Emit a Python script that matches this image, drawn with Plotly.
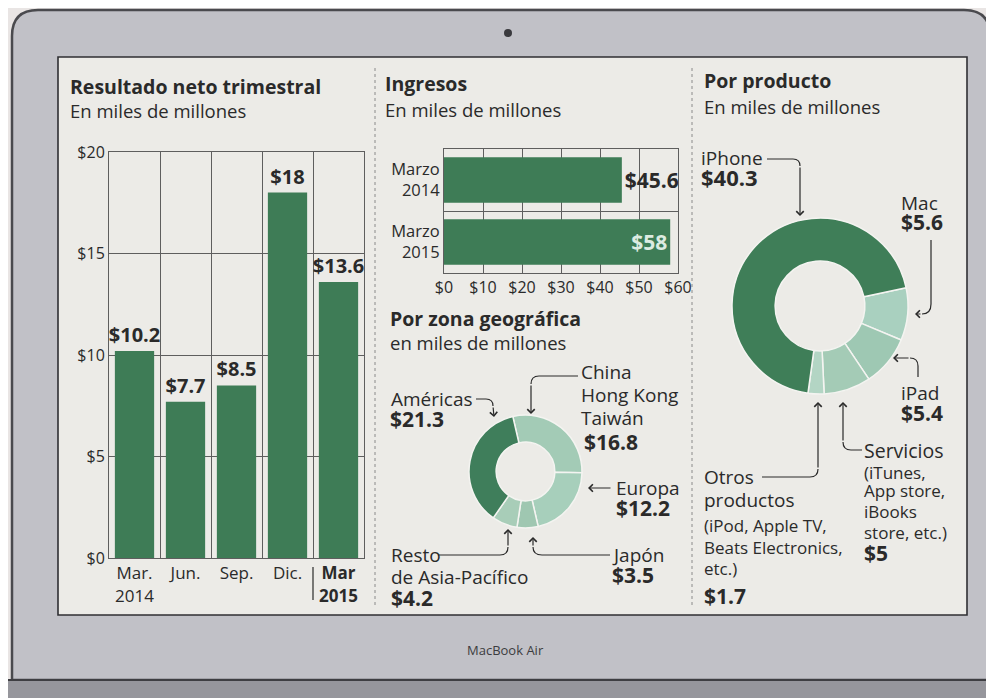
import plotly.graph_objects as go

# page body has an 8px margin: the figure is sized to fit the window exactly
OFF = 8
W, H = 994 - OFF, 698 - OFF
FONT = "'Open Sans', Roboto, sans-serif"
INK = "#2a2a2a"
GRID = "#5e5e5e"
DARK = "#3e7c56"

# ---------------- data ----------------
quarters = ["Mar. 2014", "Jun.", "Sep.", "Dic.", "Mar 2015"]
quarter_ticks = ["Mar.<br>2014", "Jun.", "Sep.", "Dic.", "<b>Mar<br>2015</b>"]
net_income = [10.2, 7.7, 8.5, 18, 13.6]
y1_ticks = [0, 5, 10, 15, 20]

rev_periods = ["Marzo<br>2014", "Marzo<br>2015"]
revenue = [45.6, 58]
x2_ticks = [0, 10, 20, 30, 40, 50, 60]

geo_labels = ["China, Hong Kong, Taiwán", "Europa", "Japón", "Resto de Asia-Pacífico", "Américas"]
geo_values = [16.8, 12.2, 3.5, 4.2, 21.3]
geo_colors = ["#a3cbb6", "#a7cfbb", "#9fc7b1", "#a8cdb8", "#3f7e5b"]

prod_labels = ["Mac", "iPad", "Servicios", "Otros productos", "iPhone"]
prod_values = [5.6, 5.4, 5.0, 1.7, 40.3]
prod_colors = ["#a9d0bf", "#9ec8b3", "#a4cbb6", "#b3d5c4", "#3f7e58"]


def X(px):
    return (px - OFF) / W


def Y(py):
    return 1 - (py - OFF) / H


def money(v):
    return f"${v:g}"


fig = go.Figure()

fig.add_trace(go.Bar(
    x=quarters, y=net_income, xaxis="x", yaxis="y",
    marker=dict(color=DARK, line=dict(width=0)), width=0.77,
    text=[f"<b>{money(v)}</b>" for v in net_income], textposition="outside",
    textfont=dict(size=20, color=INK, family=FONT), constraintext="none",
    cliponaxis=False, hoverinfo="x+y",
))

fig.add_trace(go.Bar(
    y=rev_periods, x=revenue, orientation="h", xaxis="x2", yaxis="y2",
    marker=dict(color=DARK, line=dict(width=0)), width=0.73,
    text=[f"<b>{money(v)}</b>" for v in revenue],
    textposition=["outside", "inside"], insidetextanchor="end",
    textfont=dict(size=[21, 21], color=[INK, "#dcebe1"], family=FONT),
    constraintext="none", cliponaxis=False, hoverinfo="x+y",
))

fig.add_trace(go.Pie(
    labels=geo_labels, values=geo_values, sort=False, direction="clockwise",
    rotation=-13, hole=0.52, textinfo="none", showlegend=False, automargin=False,
    marker=dict(colors=geo_colors, line=dict(color="#f4f4f1", width=1.5)),
    domain=dict(x=[X(469), X(582)], y=[Y(528), Y(415)]),
))

fig.add_trace(go.Pie(
    labels=prod_labels, values=prod_values, sort=False, direction="clockwise",
    rotation=78, hole=0.51, textinfo="none", showlegend=False, automargin=False,
    marker=dict(colors=prod_colors, line=dict(color="#f4f4f1", width=1.5)),
    domain=dict(x=[X(732), X(908)], y=[Y(394), Y(218)]),
))

axis_common = dict(showline=True, mirror=True, linecolor=GRID, linewidth=1,
                   showgrid=True, gridcolor=GRID, gridwidth=1, zeroline=False,
                   ticks="", fixedrange=True, automargin=False)

fig.update_layout(
    template="none",
    width=W, height=H, autosize=False,
    margin=dict(l=0, r=0, t=0, b=0, pad=0, autoexpand=False),
    paper_bgcolor="#e9e5e4", plot_bgcolor="rgba(0,0,0,0)",
    showlegend=False, bargap=0.2,
    font=dict(family=FONT, color=INK),
    xaxis=dict(domain=[X(109), X(364)], type="category", tickson="boundaries",
               tickvals=quarters, ticktext=quarter_ticks, anchor="y",
               tickfont=dict(size=17, color=INK), **axis_common),
    yaxis=dict(domain=[Y(558), Y(152)], range=[0, 20], tickvals=y1_ticks,
               ticktext=[money(v) for v in y1_ticks], anchor="x",
               tickfont=dict(size=16, color=INK), **axis_common),
    xaxis2=dict(domain=[X(444), X(678)], range=[0, 60], tickvals=x2_ticks,
                ticktext=[money(v) for v in x2_ticks], anchor="y2",
                tickfont=dict(size=16, color=INK), **axis_common),
    yaxis2=dict(domain=[Y(273), Y(149)], type="category", tickson="boundaries",
                autorange="reversed", anchor="x2",
                tickfont=dict(size=16.5, color=INK), **axis_common),
)

# ---------------- frame (laptop) ----------------
def pts_path(cmds):
    out = []
    for c in cmds:
        if isinstance(c, str):
            out.append(c)
        else:
            out.append(f"{X(c[0]):.5f},{Y(c[1]):.5f}")
    return " ".join(out)


shapes = []
r = 26
x0, y0, x1, y1 = 12, 10, 990, 680
shapes.append(dict(type="path", xref="paper", yref="paper", layer="below",
                   path=pts_path(["M", (x0, y1), "L", (x0, y0 + r), "Q", (x0, y0), (x0 + r, y0),
                                  "L", (x1 - r, y0), "Q", (x1, y0), (x1, y0 + r), "L", (x1, y1), "Z"]),
                   fillcolor="#c1c1c7", line=dict(color="#4a4a4e", width=2.5)))
shapes.append(dict(type="rect", xref="paper", yref="paper", layer="below",
                   x0=X(0), x1=X(1000), y0=Y(705), y1=Y(680),
                   fillcolor="#96969c", line=dict(color="#3e3e42", width=2)))
shapes.append(dict(type="rect", xref="paper", yref="paper", layer="below",
                   x0=X(58), x1=X(967), y0=Y(615), y1=Y(57),
                   fillcolor="#ecebe7", line=dict(color="#2f2f33", width=1.6)))
shapes.append(dict(type="circle", xref="paper", yref="paper", layer="below",
                   x0=X(504), x1=X(512), y0=Y(37), y1=Y(29),
                   fillcolor="#3a3a3e", line=dict(width=0)))
for xd in (375, 692):
    shapes.append(dict(type="line", xref="paper", yref="paper", layer="below",
                       x0=X(xd), x1=X(xd), y0=Y(68), y1=Y(608),
                       line=dict(color="#8a8a8a", width=1, dash="dot")))
# separator between 2014 and 2015 quarter labels
shapes.append(dict(type="line", xref="x", yref="paper", x0=3.5, x1=3.5,
                   y0=Y(567), y1=Y(600), line=dict(color=INK, width=1.2)))

LINE = dict(color=INK, width=1.2)
connectors = [
    # geography
    ["M", (476, 399), "L", (486, 399), "Q", (493, 399), (493, 406)],
    ["M", (578, 376), "L", (539, 376), "Q", (531, 376), (531, 384)],
    ["M", (610, 555), "L", (542, 555), "Q", (533, 555), (533, 547)],
    ["M", (438, 555), "L", (500, 555), "Q", (508, 555), (508, 547)],
    # product
    ["M", (767, 159), "L", (793, 159), "Q", (800, 159), (800, 166)],
    ["M", (931, 240), "L", (931, 304), "Q", (931, 314), (922, 314)],
    ["M", (918, 377), "L", (918, 366), "Q", (918, 358), (910, 358)],
    ["M", (762, 477), "L", (810, 477), "Q", (818, 477), (818, 469)],
    ["M", (862, 450), "L", (851, 450), "Q", (843, 450), (843, 442)],
]
for c in connectors:
    shapes.append(dict(type="path", xref="paper", yref="paper", path=pts_path(c), line=LINE))

arrows = [
    ((493, 406), (494, 417)),
    ((531, 384), (531, 414)),
    ((612, 488), (588, 488)),
    ((533, 547), (533, 537)),
    ((508, 547), (508, 529)),
    ((800, 166), (800, 216)),
    ((922, 314), (915, 314)),
    ((910, 358), (893, 358)),
    ((818, 469), (818, 402)),
    ((843, 442), (843, 402)),
]

annotations = []
for tail, tip in arrows:
    annotations.append(dict(x=X(tip[0]), y=Y(tip[1]), xref="paper", yref="paper",
                            ax=tail[0] - tip[0], ay=tail[1] - tip[1], text="",
                            showarrow=True, arrowhead=4, arrowsize=1.2, arrowwidth=1.2,
                            arrowcolor=INK, standoff=0, startstandoff=0))


def txt(x, y, s, size=19, bold=False, xanchor="left", color=INK):
    return dict(x=X(x), y=Y(y), xref="paper", yref="paper",
                text=f"<b>{s}</b>" if bold else s, showarrow=False,
                xanchor=xanchor, yanchor="middle", align="left", borderpad=0,
                font=dict(size=size, color=color, family=FONT))


def lines(x, ys, texts, size=17):
    return [txt(x, yy, t, size) for yy, t in zip(ys, texts)]


annotations += [
    txt(69, 86, "Resultado neto trimestral", 19.5, True),
    txt(69, 111, "En miles de millones", 18.5),
    txt(384, 84, "Ingresos", 19.5, True),
    txt(384, 109, "En miles de millones", 18.5),
    txt(389, 318, "Por zona geográfica", 19.5, True),
    txt(389, 343, "en miles de millones", 18.5),
    txt(703, 81, "Por producto", 19.5, True),
    txt(703, 106, "En miles de millones", 18.5),
    # geography labels
    txt(390, 399, "Américas", 19),
    txt(389, 419, "$21.3", 21, True),
    txt(580, 372, "China", 19),
    txt(580, 395, "Hong Kong", 19),
    txt(580, 418, "Taiwán", 19),
    txt(583, 442, "$16.8", 21, True),
    txt(615, 488, "Europa", 19),
    txt(615, 508, "$12.2", 21, True),
    txt(611, 555, "Japón", 19),
    txt(611, 575, "$3.5", 21, True),
    txt(390, 555, "Resto", 19),
    txt(390, 577, "de Asia-Pacífico", 19),
    txt(390, 598, "$4.2", 21, True),
    # product labels
    txt(700, 158, "iPhone", 19),
    txt(700, 177, "$40.3", 22, True),
    txt(900, 203, "Mac", 19),
    txt(900, 222, "$5.6", 21, True),
    txt(900, 393, "iPad", 19),
    txt(900, 413, "$5.4", 21, True),
    txt(703, 477, "Otros", 19),
    txt(703, 500, "productos", 19),
    *lines(703, [525, 547, 568], ["(iPod, Apple TV,", "Beats Electronics,", "etc.)"]),
    txt(703, 596, "$1.7", 21, True),
    txt(863, 450, "Servicios", 19.5),
    *lines(863, [472, 491, 511, 532], ["(iTunes,", "App store,", "iBooks", "store, etc.)"]),
    txt(863, 553, "$5", 21, True),
    txt(506, 650, "MacBook Air", 13, False, "center", "#3c3c40"),
]

fig.update_layout(shapes=shapes, annotations=annotations)
fig.write_html("out.html")
